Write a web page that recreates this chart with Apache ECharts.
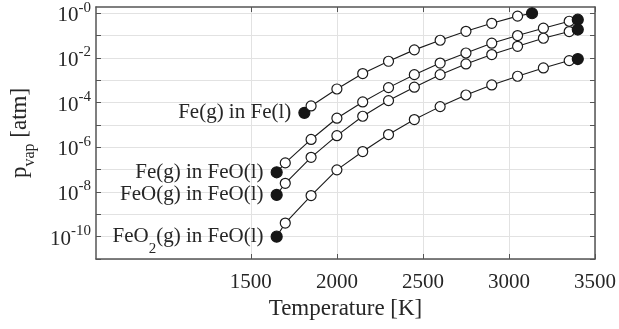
<!DOCTYPE html>
<html>
<head>
<meta charset="utf-8">
<script src="https://cdn.jsdelivr.net/npm/echarts@6/dist/echarts.min.js"></script>
<style>
  html, body { margin: 0; padding: 0; background: #fff; }
  #chart { width: 619px; height: 329px; }
</style>
</head>
<body>
<div id="chart"></div>
<script>
// Vapour pressure of iron species above liquid Fe and liquid FeO
const tempFeInFe = [1811, 1850, 2000, 2150, 2300, 2450, 2600, 2750, 2900, 3050, 3134];
const pFeInFe = [3.47e-5, 7.08e-5, 4.07e-4, 2.0e-3, 7.08e-3, 2.29e-2, 6.17e-2, 0.155, 0.355, 0.741, 1.0];

const tempFeO = [1650, 1700, 1850, 2000, 2150, 2300, 2450, 2600, 2750, 2900, 3050, 3200, 3350, 3400];
const pFeInFeO = [7.59e-8, 2.0e-7, 2.24e-6, 2.0e-5, 1.07e-4, 4.68e-4, 1.78e-3, 5.89e-3, 1.66e-2, 4.57e-2, 0.1, 0.214, 0.437, 0.513];
const pFeOInFeO = [7.41e-9, 2.45e-8, 3.55e-7, 3.31e-6, 2.45e-5, 1.23e-4, 4.90e-4, 1.78e-3, 5.37e-3, 1.41e-2, 3.31e-2, 7.59e-2, 0.151, 0.186];
const pFeO2InFeO = [1.0e-10, 4.07e-10, 6.92e-9, 9.77e-8, 6.46e-7, 3.72e-6, 1.74e-5, 6.61e-5, 2.19e-4, 6.17e-4, 1.51e-3, 3.55e-3, 7.59e-3, 8.91e-3];

const seriesNames = ['Fe(g) in Fe(l)', 'Fe(g) in FeO(l)', 'FeO(g) in FeO(l)', 'FeO2(g) in FeO(l)'];
const seriesLabels = [
  '{t|Fe(g) in Fe(l)}',
  '{t|Fe(g) in FeO(l)}',
  '{t|FeO(g) in FeO(l)}',
  '{t|FeO}{sub|2}{t|(g) in FeO(l)}'
];

const xTicks = [1500, 2000, 2500, 3000, 3500];
const yTicks = [1e-11, 1e-10, 1e-9, 1e-8, 1e-7, 1e-6, 1e-5, 1e-4, 1e-3, 1e-2, 1e-1, 1];
const yLabels = [1e-10, 1e-8, 1e-6, 1e-4, 1e-2, 1];

const X_MIN = 600, X_MAX = 3500, Y_MIN = 1e-11, Y_MAX = 1.9;

const FONT = '"Liberation Serif", "Times New Roman", serif';
const TEXT = '#262626';
const AXIS = '#555555';
const GRIDC = '#e2e2e2';

function buildPoints(temps, values, labelFmt) {
  const last = temps.length - 1;
  return temps.map((t, i) => {
    const item = { value: [t, values[i]] };
    if (i === 0 || i === last) {
      item.itemStyle = { color: '#161616', borderColor: '#161616' };
      item.symbolSize = 11;
    }
    if (i === 0) {
      item.label = {
        show: true,
        position: 'left',
        distance: 7,
        formatter: labelFmt,
        rich: {
          t: { fontFamily: FONT, fontSize: 21, color: TEXT, lineHeight: 21, verticalAlign: 'middle' },
          sub: { fontFamily: FONT, fontSize: 15, color: TEXT, lineHeight: 39, verticalAlign: 'bottom' }
        }
      };
    }
    return item;
  });
}

function makeSeries(name, temps, values, labelFmt) {
  return {
    name: name,
    type: 'line',
    xAxisIndex: 0,
    yAxisIndex: 0,
    data: buildPoints(temps, values, labelFmt),
    symbol: 'circle',
    symbolSize: 10,
    showAllSymbol: true,
    clip: false,
    lineStyle: { color: '#1a1a1a', width: 1.1 },
    itemStyle: { color: '#ffffff', borderColor: '#1a1a1a', borderWidth: 1.2 },
    emphasis: { disabled: true },
    animation: false
  };
}

function expOf(v) { return Math.round(Math.log10(v)); }

const chart = echarts.init(document.getElementById('chart'), null, { renderer: 'canvas' });

const baseX = {
  type: 'value',
  min: X_MIN,
  max: X_MAX,
  axisLine: { show: true, onZero: false, lineStyle: { color: AXIS, width: 1.5 } },
  axisTick: { show: true, inside: true, length: 5, customValues: xTicks, lineStyle: { color: AXIS, width: 1 } }
};
const baseY = {
  type: 'log',
  logBase: 10,
  min: Y_MIN,
  max: Y_MAX,
  axisLine: { show: true, onZero: false, lineStyle: { color: AXIS, width: 1.5 } },
  axisTick: { show: true, inside: true, length: 5, customValues: yTicks, lineStyle: { color: AXIS, width: 1 } }
};

chart.setOption({
  backgroundColor: '#ffffff',
  animation: false,
  grid: { left: 92, right: 22, top: 7, bottom: 70, containLabel: false },
  xAxis: [
    Object.assign({}, baseX, {
      position: 'bottom',
      name: 'Temperature [K]',
      nameLocation: 'middle',
      nameGap: 35,
      nameTextStyle: { fontFamily: FONT, fontSize: 23, color: TEXT },
      axisLabel: {
        show: true,
        customValues: xTicks,
        margin: 13,
        formatter: function (v) { return String(v); },
        fontFamily: FONT, fontSize: 21, color: TEXT
      },
      splitLine: { show: true, lineStyle: { color: GRIDC, width: 1 } }
    }),
    Object.assign({}, baseX, {
      position: 'top',
      axisLabel: { show: false },
      splitLine: { show: false }
    })
  ],
  yAxis: [
    Object.assign({}, baseY, {
      position: 'left',
      name: '{p|p}{sub|vap}{p| [atm]}',
      nameLocation: 'middle',
      nameRotate: 90,
      nameGap: 58,
      nameTextStyle: {
        rich: {
          p: { fontFamily: FONT, fontSize: 23, color: TEXT, lineHeight: 30, verticalAlign: 'top' },
          sub: { fontFamily: FONT, fontSize: 16, color: TEXT, lineHeight: 30, verticalAlign: 'bottom' }
        }
      },
      axisLabel: {
        show: true,
        customValues: yLabels,
        margin: 5,
        formatter: function (v) { return '{b|10}{e|-' + Math.abs(expOf(v)) + '}'; },
        rich: {
          b: { fontFamily: FONT, fontSize: 21, color: TEXT, lineHeight: 26, verticalAlign: 'bottom' },
          e: { fontFamily: FONT, fontSize: 15, color: TEXT, lineHeight: 26, verticalAlign: 'top' }
        }
      },
      splitLine: { show: true, lineStyle: { color: GRIDC, width: 1 } }
    }),
    Object.assign({}, baseY, {
      position: 'right',
      axisLabel: { show: false },
      splitLine: { show: false }
    })
  ],
  series: [
    makeSeries(seriesNames[0], tempFeInFe, pFeInFe, seriesLabels[0]),
    makeSeries(seriesNames[1], tempFeO, pFeInFeO, seriesLabels[1]),
    makeSeries(seriesNames[2], tempFeO, pFeOInFeO, seriesLabels[2]),
    makeSeries(seriesNames[3], tempFeO, pFeO2InFeO, seriesLabels[3])
  ]
});
</script>
</body>
</html>
